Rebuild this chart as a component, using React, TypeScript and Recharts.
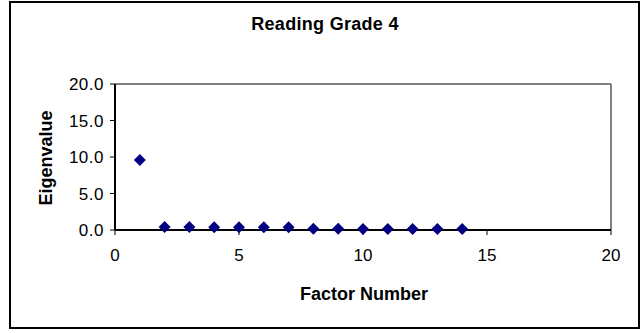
import { ScatterChart, Scatter, XAxis, YAxis, ReferenceLine } from 'recharts';

const factorNumbers = [1, 2, 3, 4, 5, 6, 7, 8, 9, 10, 11, 12, 13, 14];
const eigenvalues = [9.6, 0.42, 0.4, 0.39, 0.38, 0.37, 0.36, 0.17, 0.16, 0.15, 0.15, 0.14, 0.13, 0.12];
const xTicks = [0, 5, 10, 15, 20];
const yTicks = [0, 5, 10, 15, 20];

const FONT = '"Liberation Sans", Arial, sans-serif';

const data = factorNumbers.map((f, i) => ({ factor: f, eigen: eigenvalues[i] }));

function Diamond(props: any) {
  const { cx, cy } = props;
  if (cx == null || cy == null) return null;
  const r = 6;
  return (
    <path
      d={`M${cx},${cy - r} L${cx + r},${cy} L${cx},${cy + r} L${cx - r},${cy} Z`}
      fill="#000080"
    />
  );
}

export default function App() {
  return (
    <div style={{ position: 'absolute', left: 0, top: 0, width: 644, height: 333, background: '#fff' }}>
      <div
        style={{
          position: 'absolute',
          left: 9,
          top: 1,
          width: 631,
          height: 328,
          border: '2px solid #000',
          boxSizing: 'border-box',
        }}
      />
      <div
        style={{
          position: 'absolute',
          left: 0,
          width: 650,
          top: 15,
          textAlign: 'center',
          fontFamily: FONT,
          fontWeight: 'bold',
          fontSize: 18,
          lineHeight: '18px',
          letterSpacing: 0.3,
        }}
      >
        Reading Grade 4
      </div>
      <ScatterChart
        width={644}
        height={333}
        margin={{ top: 84, right: 33, bottom: 73, left: 55 }}
        style={{ position: 'absolute', left: 0, top: 0 }}
      >
        <XAxis
          type="number"
          dataKey="factor"
          domain={[0, 20]}
          ticks={xTicks}
          height={30}
          tickSize={5}
          tickMargin={14}
          axisLine={{ stroke: '#000', strokeWidth: 2 }}
          tickLine={{ stroke: '#000' }}
          tick={{ fill: '#000', fontFamily: FONT, fontSize: 17 }}
          label={{
            content: () => (
              <text x={364} y={300} textAnchor="middle" fontFamily={FONT} fontWeight="bold" fontSize={18} fill="#000">
                Factor Number
              </text>
            ),
          }}
        />
        <YAxis
          type="number"
          dataKey="eigen"
          domain={[0, 20]}
          ticks={yTicks}
          width={60}
          tickSize={5}
          tickMargin={6}
          tickFormatter={(v: number) => v.toFixed(1)}
          axisLine={{ stroke: '#000', strokeWidth: 2 }}
          tickLine={{ stroke: '#000' }}
          tick={{ fill: '#000', fontFamily: FONT, fontSize: 17, letterSpacing: 0.5 }}
          label={{
            content: () => (
              <text
                x={52}
                y={158}
                transform="rotate(-90 52 158)"
                textAnchor="middle"
                fontFamily={FONT}
                fontWeight="bold"
                fontSize={18}
                fill="#000"
              >
                Eigenvalue
              </text>
            ),
          }}
        />
        <ReferenceLine y={20} stroke="#808080" strokeWidth={2} />
        <ReferenceLine x={20} stroke="#808080" strokeWidth={2} />
        <Scatter data={data} shape={<Diamond />} isAnimationActive={false} />
      </ScatterChart>
    </div>
  );
}
